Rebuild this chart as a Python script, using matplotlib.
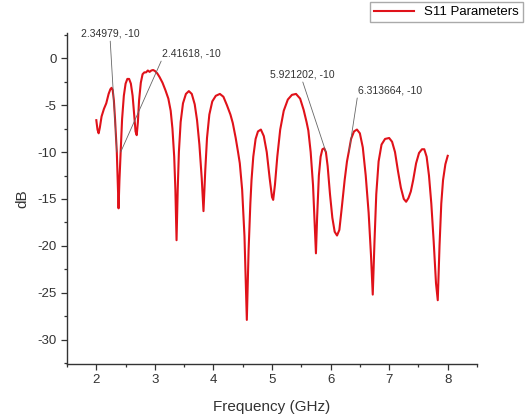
import matplotlib
matplotlib.use("Agg")
import matplotlib.pyplot as plt
from matplotlib.ticker import MultipleLocator

plt.rcParams["font.family"] = ["Liberation Sans", "DejaVu Sans"]
plt.rcParams["axes.unicode_minus"] = False

# S11 curve (GHz, dB)
freq = [2.00, 2.02, 2.04, 2.06, 2.09, 2.13, 2.17, 2.21, 2.24, 2.26, 2.28, 2.30,
        2.32, 2.35, 2.365, 2.38, 2.395, 2.416, 2.44, 2.47, 2.50, 2.53, 2.56, 2.59,
        2.62, 2.65, 2.67, 2.69, 2.71, 2.73, 2.76, 2.79, 2.82, 2.85, 2.88, 2.91,
        2.94, 2.97, 3.00, 3.04, 3.08, 3.13, 3.18, 3.23, 3.27, 3.30, 3.33, 3.35,
        3.37, 3.39, 3.41, 3.44, 3.48, 3.53, 3.58, 3.63, 3.68, 3.72, 3.76, 3.80,
        3.83, 3.86, 3.89, 3.93, 3.98, 4.04, 4.11, 4.17, 4.23, 4.29, 4.33, 4.38,
        4.42, 4.45, 4.49, 4.53, 4.57, 4.60, 4.63, 4.65, 4.68, 4.72, 4.76, 4.81,
        4.86, 4.91, 4.96, 5.00, 5.02, 5.05, 5.09, 5.14, 5.20, 5.27, 5.34, 5.41,
        5.48, 5.54, 5.59, 5.62, 5.66, 5.70, 5.73, 5.75, 5.77, 5.80, 5.83, 5.86,
        5.89, 5.92, 5.95, 5.99, 6.03, 6.07, 6.11, 6.15, 6.19, 6.24, 6.28, 6.31,
        6.35, 6.40, 6.45, 6.50, 6.55, 6.60, 6.65, 6.69, 6.72, 6.75, 6.78, 6.82,
        6.87, 6.93, 7.00, 7.05, 7.10, 7.15, 7.20, 7.25, 7.29, 7.33, 7.37, 7.41,
        7.46, 7.51, 7.56, 7.60, 7.64, 7.68, 7.72, 7.76, 7.80, 7.83, 7.86, 7.89,
        7.92, 7.96, 8.00]
s11 = [-6.6, -7.6, -8.0, -7.4, -6.2, -5.4, -4.8, -3.8, -3.3, -3.15, -3.4, -4.5,
       -6.5, -10.0, -13.0, -16.0, -13.0, -10.0, -6.5, -4.0, -2.7, -2.2, -2.2, -2.7,
       -4.0, -6.2, -7.8, -8.2, -6.8, -4.5, -2.6, -1.7, -1.5, -1.5, -1.3, -1.45,
       -1.3, -1.25, -1.35, -1.6, -2.0, -2.6, -3.4, -4.3, -5.6, -7.5, -10.5, -14.0,
       -19.4, -14.0, -10.0, -6.8, -4.8, -3.8, -3.5, -3.8, -4.9, -6.6, -9.2, -12.8,
       -16.3, -12.0, -8.5, -6.0, -4.6, -4.0, -3.8, -4.1, -5.0, -6.0, -6.9, -8.5,
       -10.0, -11.2, -14.0, -19.0, -27.9, -20.5, -15.5, -13.0, -10.5, -8.6, -7.8, -7.6,
       -8.3, -10.0, -12.8, -14.8, -15.1, -13.5, -10.5, -7.6, -5.6, -4.4, -3.9, -3.8,
       -4.3, -5.5, -6.8, -7.7, -10.0, -13.5, -18.0, -20.8, -17.0, -12.5, -10.5, -9.7,
       -9.6, -10.0, -11.5, -14.5, -17.0, -18.5, -18.9, -18.3, -16.0, -13.0, -11.0, -10.0,
       -8.6, -7.8, -7.6, -8.0, -9.5, -12.5, -16.5, -21.0, -25.2, -19.5, -14.5, -11.0,
       -9.2, -8.6, -8.5, -8.9, -10.0, -12.0, -13.8, -15.0, -15.3, -14.9, -14.2, -13.0,
       -11.2, -10.1, -9.7, -9.7, -10.5, -12.5, -15.5, -19.5, -24.0, -25.8, -20.0, -15.5,
       -13.0, -11.3, -10.4]

# -10 dB crossings marked in the reference
mark_x = [2.34979, 2.41618, 5.921202, 6.313664]
mark_y = [-10, -10, -10, -10]
mark_labels = ["2.34979, -10", "2.41618, -10", "5.921202, -10", "6.313664, -10"]
mark_text_pos = [(2.235, 2.66), (3.63, 0.53), (5.51, -1.7), (7.01, -3.4)]
mark_relpos = [(0.5, 0.0), (0.0, 0.0), (0.5, 0.0), (0.0, 0.0)]

C_LINE = "#e0121a"
C_INK = "#333333"

fig = plt.figure(figsize=(5.29, 4.19), dpi=100)
ax = fig.add_axes([0.1267, 0.1313, 0.775, 0.79])
ax.plot(freq, s11, color=C_LINE, lw=1.5, label="S11 Parameters")

for (x, y, lab, pos, rp) in zip(mark_x, mark_y, mark_labels, mark_text_pos, mark_relpos):
    ax.annotate(lab, xy=(x, y), xytext=pos, ha="center", va="center",
                fontsize=7.5, color=C_INK, annotation_clip=False,
                arrowprops=dict(arrowstyle="-", color="#666666", lw=0.6,
                                shrinkA=0, shrinkB=0, relpos=rp))

ax.set_xlim(1.5, 8.5)
ax.set_ylim(-32.6, 2.7)
ax.xaxis.set_major_locator(MultipleLocator(1))
ax.xaxis.set_minor_locator(MultipleLocator(0.5))
ax.yaxis.set_major_locator(MultipleLocator(5))
ax.yaxis.set_minor_locator(MultipleLocator(2.5))
ax.tick_params(which="major", direction="out", length=4, width=0.9,
               labelsize=9.5, colors=C_INK)
ax.tick_params(which="minor", direction="out", length=2.5, width=0.9, colors=C_INK)
for s in ("top", "right"):
    ax.spines[s].set_visible(False)
for s in ("left", "bottom"):
    ax.spines[s].set_color(C_INK)
    ax.spines[s].set_linewidth(1.0)

ax.set_xlabel("Frequency (GHz)", fontsize=11, color=C_INK, labelpad=10)
ax.set_ylabel("dB", fontsize=11, color=C_INK, labelpad=6)

fig.legend(loc="upper right", bbox_to_anchor=(523 / 529, 1 - 2 / 419),
           fontsize=9.5, fancybox=False, edgecolor="#aaaaaa", framealpha=1,
           handlelength=3, borderpad=0.3, borderaxespad=0)

fig.savefig("out.png", dpi=100)
